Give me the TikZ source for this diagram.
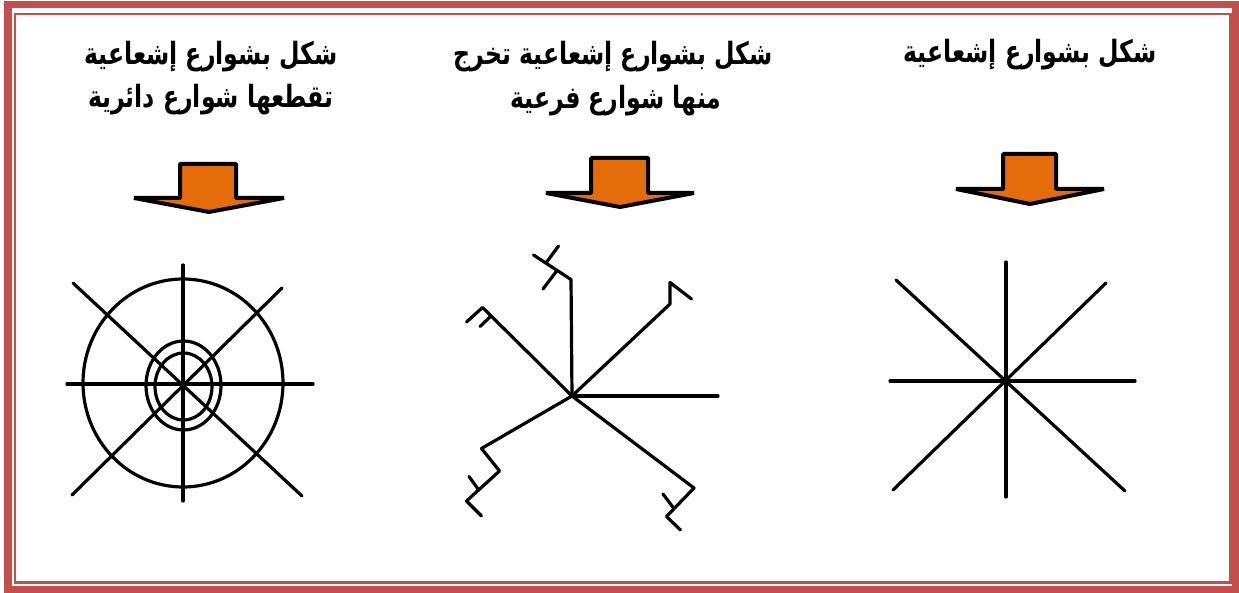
\documentclass[tikz,border=0pt]{standalone}
\usepackage{fontspec}
\newfontfamily\arabicfont[Script=Arabic]{DejaVu Sans}
\TeXXeTstate=1
\definecolor{framered}{RGB}{192,80,77}
\definecolor{arroworange}{RGB}{228,108,10}
\newcommand{\artitle}[1]{\scalebox{1}[1.3]{\beginR #1\endR}}
\begin{document}
\begin{tikzpicture}[x=1pt,y=-1pt,
  title/.style={font=\arabicfont\bfseries\fontsize{23.6}{28}\selectfont, anchor=base, inner sep=0pt},
  road/.style={line width=3.2pt, line cap=round, line join=round},
  blockarrow/.style={fill=arroworange, draw=black, line width=4pt, line join=bevel},
  outerframe/.style={draw=framered, line width=7.5pt},
  innerframe/.style={draw=framered, line width=2.8pt}]
\useasboundingbox (0,0) rectangle (1239,593);
\fill[white] (0,0) rectangle (1239,593);
% frame
\draw[outerframe] (8,4.5) rectangle (1235.5,589.5);
\draw[innerframe] (15,14) rectangle (1230.5,582.2);

% titles
\node[title] (t1) at (1030,63) {\artitle{شكل بشوارع إشعاعية}};
\node[title] (t2a) at (613,65) {\artitle{شكل بشوارع إشعاعية تخرج}};
\node[title] (t2b) at (616,109) {\artitle{منها شوارع فرعية}};
\node[title] (t3a) at (211,65) {\artitle{شكل بشوارع إشعاعية}};
\node[title] (t3b) at (211,108) {\artitle{تقطعها شوارع دائرية}};

% arrows
\draw[blockarrow] (180,164) -- (236,164) -- (236,198) -- (284,198) -- (209,212) -- (134,198) -- (180,198) -- cycle;
\draw[blockarrow] (591,158) -- (648,158) -- (648,193) -- (694,193) -- (620,207) -- (546,193) -- (591,193) -- cycle;
\draw[blockarrow] (1003,154) -- (1056,154) -- (1056,189) -- (1104,189) -- (1030,204) -- (956,189) -- (1003,189) -- cycle;

% left diagram: radial with ring roads
\coordinate (lc) at (183,384);
\draw[road] (183,265) -- (183,501);
\draw[road] (67,384) -- (313,384);
\draw[road] (73,283) -- (302,496);
\draw[road] (282,288) -- (72,495);
\draw[road] (183,383) ellipse [x radius=100, y radius=104];
\draw[road] (183.5,385.5) ellipse [x radius=37.5, y radius=44.5];
\draw[road] (183.5,386.5) ellipse [x radius=28.5, y radius=33.5];

% middle diagram: radial with branches
\coordinate (mc) at (572,396);
\draw[road] (mc) -- (718,396);
\draw[road] (mc) -- (670,304) -- (670,282.5) -- (691.5,299);
\draw[road] (mc) -- (571,279.5) -- (533.5,255);
\draw[road] (546,263) -- (558.5,246);
\draw[road] (557,270.5) -- (543,289);
\draw[road] (mc) -- (482.5,307.5) -- (466.5,322);
\draw[road] (491,316) -- (480,326.5);
\draw[road] (mc) -- (481.5,448.5) -- (499.5,471) -- (466.5,501) -- (481.5,516);
\draw[road] (478,489) -- (469,476.5);
\draw[road] (mc) -- (694,488) -- (666.5,516.5) -- (680.5,530);
\draw[road] (673.5,508) -- (663,494);

% right diagram: radial
\coordinate (rc) at (1006,381);
\draw[road] (1006,262) -- (1006,497);
\draw[road] (890,381) -- (1135,381);
\draw[road] (896,280) -- (1125,491);
\draw[road] (1106,283) -- (893,490);
\end{tikzpicture}
\end{document}
